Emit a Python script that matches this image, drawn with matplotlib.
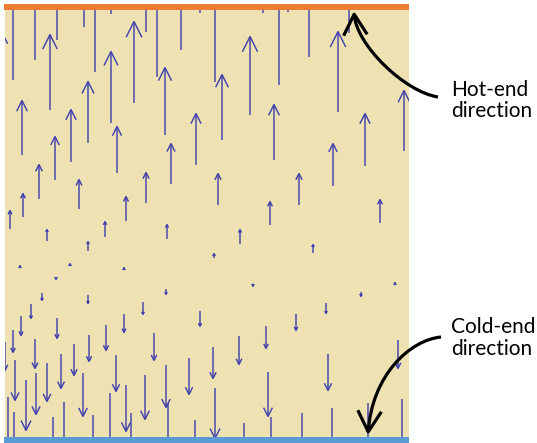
import matplotlib
matplotlib.use("Agg")
import matplotlib.pyplot as plt
from matplotlib.patches import FancyArrowPatch, Rectangle
from matplotlib.path import Path

W, H, DPI = 537, 443, 100

# Field arrows (image-pixel units, y grows downward): x, tail y, head y
arrow_x = [
    # upward, head beyond the hot end
    13, 35, 57, 84, 95, 111, 146, 157, 181, 200, 215, 263, 279, 288, 309, 349,
    # upward with visible head
    50, 111, 134, 165, 22, 71, 88, 55, 117, 171, 196, 2,
    250, 222, 338, 274, 365, 404, 333,
    39, 79, 146, 126, 23, 10, 47, 105, 88, 167,
    218, 299, 270, 380, 240, 313, 214,
    20, 70, 124, 395,
    # downward with visible head
    56, 253, 42, 88, 166, 31, 143, 200, 21, 57, 124, 13, 106, 89, 154, 35, 74, 5,
    61, 116, 189, 47, 15, 166, 83, 36, 145, 26, 126,
    361, 326, 296, 266, 239, 213, 328, 398, 268, 215,
    # downward, head beyond the cold end
    8, 14, 53, 64, 93, 110, 131, 168, 195, 244, 271, 302, 332, 368, 402,
]
arrow_tail = [
    80, 60, 40, 27, 72, 14, 32, 77, 50, 13, 82, 13, 85, 12, 57, 33,
    110, 123, 103, 135, 155, 162, 143, 180, 173, 184, 165, 90,
    115, 140, 112, 160, 166, 151, 186,
    199, 209, 203, 221, 217, 229, 241, 237, 251, 239,
    205, 205, 225, 223, 244, 253, 258,
    268, 266, 270, 284,
    278, 284, 293, 295, 289, 304, 302, 311, 316, 318, 314, 330, 325, 335, 333, 339, 344, 342,
    354, 355, 358, 363, 360, 365, 373, 373, 375, 380, 385,
    292, 303, 314, 326, 336, 347, 354, 340, 372, 388,
    397, 412, 417, 402, 415, 393, 413, 403, 420, 423, 417, 413, 408, 403, 399,
]
arrow_head = [
    -20, -20, -20, -20, -20, -20, -20, -20, -20, -20, -20, -20, -20, -20, -20, -20,
    33, 50, 20, 66, 99, 108, 80, 135, 125, 142, 112, 31,
    35, 73, 30, 103, 112, 89, 142,
    163, 178, 171, 195, 192, 209, 228, 220, 240, 223,
    172, 172, 200, 198, 228, 243, 252,
    264, 262, 266, 281,
    281, 288, 302, 305, 296, 320, 316, 328, 337, 340, 334, 354, 352, 363, 362, 370, 377, 372,
    390, 393, 396, 403, 402, 409, 418, 416, 421, 432, 433,
    298, 315, 332, 350, 366, 380, 392, 370, 418, 440,
    460, 460, 460, 460, 460, 460, 460, 460, 460, 460, 460, 460, 460, 460, 460,
]

# Annotation labels
hot_label = ["Hot-end", "direction"]
cold_label = ["Cold-end", "direction"]

BEIGE = "#EEE2B3"
ORANGE = "#ED7D31"
BLUE = "#5B9BD5"
ARROW = "#3B3BAE"

fig = plt.figure(figsize=(W / DPI, H / DPI), dpi=DPI)
fig.patch.set_facecolor("white")
ax = fig.add_axes([5 / W, (H - 437) / H, 404 / W, 427 / H])
ax.set_xlim(5, 409)
ax.set_ylim(437, 10)
ax.set_facecolor(BEIGE)
for s in ax.spines.values():
    s.set_visible(False)
ax.set_xticks([])
ax.set_yticks([])

px2pt = 72.0 / DPI
for x, y0, y1 in zip(arrow_x, arrow_tail, arrow_head):
    L = abs(y1 - y0)
    hl = max(0.19 * L, 2.5) * px2pt
    hw = 0.5 * hl
    a = FancyArrowPatch((x, y0), (x, y1),
                        arrowstyle=f"->,head_length={hl:.2f},head_width={hw:.2f}",
                        mutation_scale=1, shrinkA=0, shrinkB=0,
                        color=ARROW, lw=1.0, capstyle="butt", joinstyle="miter")
    ax.add_patch(a)

# hot and cold end bands
ax.add_patch(Rectangle((4, 4), 405, 6, facecolor=ORANGE, edgecolor="none", clip_on=False))
ax.add_patch(Rectangle((4, 437), 405, 7, facecolor=BLUE, edgecolor="none", clip_on=False))

# curved annotation arrows
hot_path = Path([(438, 97), (405, 92), (356, 45), (354, 11)],
                [Path.MOVETO, Path.CURVE4, Path.CURVE4, Path.CURVE4])
cold_path = Path([(441, 337), (410, 340), (372, 375), (368, 435)],
                 [Path.MOVETO, Path.CURVE4, Path.CURVE4, Path.CURVE4])
for p in (hot_path, cold_path):
    fa = FancyArrowPatch(path=p, arrowstyle="->,head_length=15,head_width=8.5",
                         mutation_scale=1, color="black", lw=2.3, clip_on=False,
                         capstyle="butt")
    ax.add_patch(fa)

font = dict(family="Lato", fontsize=15, color="black", ha="left", va="baseline", clip_on=False)
ax.text(451, 96, hot_label[0], **font)
ax.text(451, 117, hot_label[1], **font)
ax.text(451, 333, cold_label[0], **font)
ax.text(451, 355, cold_label[1], **font)

fig.savefig("out.png", dpi=DPI)
